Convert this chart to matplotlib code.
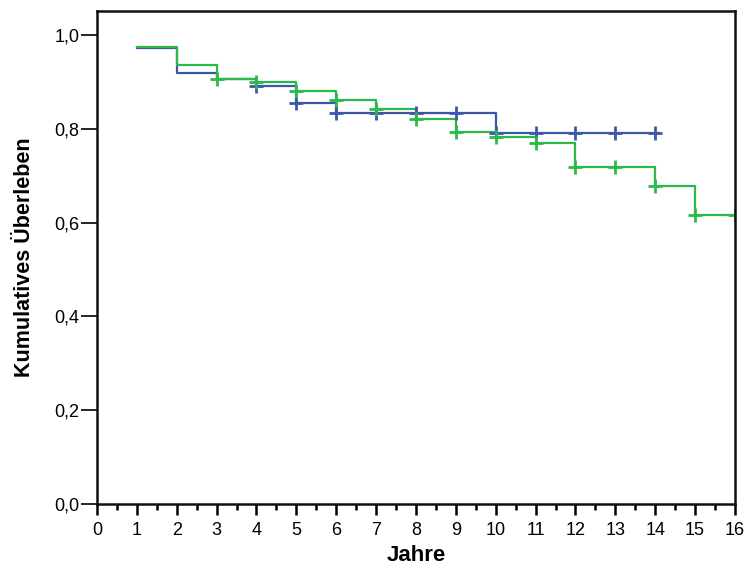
import matplotlib
matplotlib.use("Agg")
import matplotlib.pyplot as plt
from matplotlib.ticker import MultipleLocator, FuncFormatter

# step curves (time of step, value after step)
blue_t = [1, 2, 3, 4, 5, 6, 10, 14.1]
blue_s = [0.972, 0.918, 0.906, 0.891, 0.856, 0.833, 0.792, 0.792]
green_t = [1, 2, 3, 4, 5, 6, 7, 8, 9, 10, 11, 12, 14, 15, 16]
green_s = [0.975, 0.935, 0.906, 0.900, 0.881, 0.861, 0.8415, 0.820, 0.7925,
           0.782, 0.769, 0.7186, 0.678, 0.616, 0.616]

# censor marks
blue_ct = [4, 5, 6, 7, 8, 9, 10, 11, 12, 13, 14]
blue_cs = [0.891, 0.856, 0.833, 0.833, 0.833, 0.833, 0.792, 0.792, 0.792, 0.792, 0.792]
green_ct = [3, 4, 5, 6, 7, 8, 9, 10, 11, 12, 13, 14, 15, 16]
green_cs = [0.906, 0.900, 0.881, 0.861, 0.8415, 0.820, 0.7925, 0.782, 0.769,
            0.7186, 0.7186, 0.678, 0.616, 0.616]

blue = "#3d57a8"
green = "#2db84b"

plt.rcParams['font.family'] = ['Liberation Sans', 'DejaVu Sans']

fig = plt.figure(figsize=(7.5, 5.67), dpi=100)
ax = fig.add_axes([0.1293, 0.1111, 0.8507, 0.8695])

ax.step(blue_t, blue_s, where="post", color=blue, lw=1.6)
ax.step(green_t, green_s, where="post", color=green, lw=1.6)
ax.plot(blue_ct, blue_cs, ls="none", marker="+", ms=10, mew=2, color=blue)
ax.plot(green_ct, green_cs, ls="none", marker="+", ms=10, mew=2, color=green)

ax.set_xlim(0, 16)
ax.set_ylim(0, 1.0512)
ax.xaxis.set_major_locator(MultipleLocator(1))
ax.xaxis.set_minor_locator(MultipleLocator(0.5))
ax.yaxis.set_major_locator(MultipleLocator(0.2))
ax.yaxis.set_major_formatter(FuncFormatter(lambda v, p: f"{v:.1f}".replace(".", ",")))

for s in ax.spines.values():
    s.set_linewidth(1.8)
    s.set_color("#111111")

ax.tick_params(axis="x", which="major", length=8, width=1.8, labelsize=13, pad=5)
ax.tick_params(axis="x", which="minor", length=4, width=1.8)
ax.tick_params(axis="y", which="major", length=11.5, width=1.2, labelsize=13, pad=1)

ax.set_xlabel("Jahre", fontsize=16, fontweight="bold", labelpad=4)
ax.set_ylabel("Kumulatives Überleben", fontsize=15.5, fontweight="bold")
ax.yaxis.set_label_coords(-0.097, 0.5)

fig.savefig("out.png", dpi=100)
